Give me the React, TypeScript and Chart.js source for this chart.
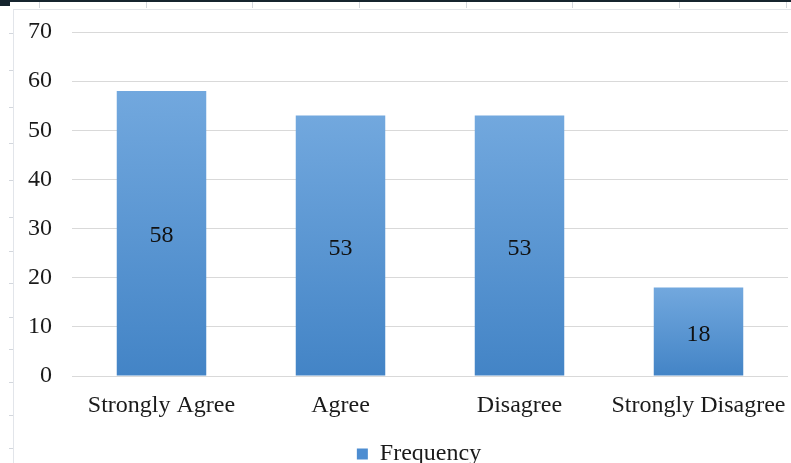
import React, { useEffect, useRef } from "react";
import { Chart, registerables } from "chart.js";

Chart.register(...registerables);

// Survey responses
const categories = ["Strongly Agree", "Agree", "Disagree", "Strongly Disagree"];
const frequency = [58, 53, 53, 18];
const seriesLabel = "Frequency";
const yMin = 0;
const yMax = 70;
const yStep = 10;

// Page furniture around the chart (ruler marks of the document view)
const topRulerX = [39, 146, 252, 359, 466, 572, 679, 786];
const leftRulerY = [33, 70, 107, 143, 180, 217, 251, 283, 317, 349, 382, 415, 448];

const FONT = "'Liberation Serif', 'Times New Roman', serif";
const TEXT = "#1a1a1a";
const BAR_TOP = "#72a8de";
const BAR_BOTTOM = "#4384c6";
const LEGEND_SWATCH = "#4d8dd1";

// Writes each bar's value in the middle of the bar
const barValueLabels = {
  id: "barValueLabels",
  afterDatasetsDraw(chart: any) {
    const { ctx } = chart;
    const meta = chart.getDatasetMeta(0);
    const values = chart.data.datasets[0].data as number[];
    ctx.save();
    ctx.font = `24px ${FONT}`;
    ctx.fillStyle = "#111";
    ctx.textAlign = "center";
    ctx.textBaseline = "alphabetic";
    meta.data.forEach((bar: any, i: number) => {
      const { x, y, base } = bar.getProps(["x", "y", "base"], true);
      // digits are ~16px tall, so the baseline sits a little below the bar's middle
      ctx.fillText(String(values[i]), x, (y + base) / 2 + 9);
    });
    ctx.restore();
  },
};

// Vertical gradient spanning each bar from its top to the baseline
function barGradient(ctx: any) {
  const chart = ctx.chart;
  const y = chart.scales?.y;
  if (ctx.type !== "data" || !y || typeof ctx.raw !== "number") return BAR_BOTTOM;
  const top = y.getPixelForValue(ctx.raw);
  const bottom = y.getPixelForValue(0);
  if (!isFinite(top) || !isFinite(bottom) || top === bottom) return BAR_BOTTOM;
  const g = chart.ctx.createLinearGradient(0, top, 0, bottom);
  g.addColorStop(0, BAR_TOP);
  g.addColorStop(1, BAR_BOTTOM);
  return g;
}

export default function App() {
  const canvasRef = useRef<HTMLCanvasElement | null>(null);

  useEffect(() => {
    if (!canvasRef.current) return;
    const chart = new Chart(canvasRef.current, {
      type: "bar",
      data: {
        labels: categories,
        datasets: [
          {
            label: seriesLabel,
            data: frequency,
            backgroundColor: barGradient as any,
            borderWidth: 0,
            categoryPercentage: 1,
            barPercentage: 0.5,
          },
        ],
      },
      options: {
        responsive: false,
        maintainAspectRatio: false,
        animation: false,
        devicePixelRatio: 1,
        layout: { padding: { left: 36, top: 22, right: 37, bottom: 0 } },
        scales: {
          x: {
            grid: { display: false, drawTicks: false },
            border: { display: false },
            ticks: {
              color: TEXT,
              font: { family: FONT, size: 24 },
              padding: 15,
              maxRotation: 0,
              minRotation: 0,
              autoSkip: false,
            },
            afterFit(scale: any) {
              scale.height = 56;
            },
          },
          y: {
            min: yMin,
            max: yMax,
            grid: { color: "#d9d9d9", lineWidth: 1, drawTicks: false },
            border: { display: false },
            ticks: {
              stepSize: yStep,
              color: TEXT,
              font: { family: FONT, size: 24 },
              // right-aligned numbers sitting 20px left of the plot
              mirror: true,
              crossAlign: "far",
              padding: -44,
            },
            afterFit(scale: any) {
              scale.width = 22;
            },
          },
        },
        plugins: {
          legend: {
            display: true,
            position: "bottom",
            labels: {
              color: TEXT,
              font: { family: FONT, size: 24 },
              boxWidth: 11,
              boxHeight: 11,
              padding: 10,
              generateLabels: (c: any) =>
                Chart.defaults.plugins.legend.labels
                  .generateLabels(c)
                  .map((item: any) => ({
                    ...item,
                    fillStyle: LEGEND_SWATCH,
                    strokeStyle: LEGEND_SWATCH,
                    lineWidth: 0,
                  })),
            },
          },
          tooltip: { enabled: false },
        },
      },
      plugins: [barValueLabels],
    });
    return () => chart.destroy();
  }, []);

  const abs = (style: React.CSSProperties): React.CSSProperties => ({
    position: "absolute",
    ...style,
  });

  return (
    <div
      style={abs({
        left: 0,
        top: 0,
        width: 791,
        height: 463,
        overflow: "hidden",
        background: "#ffffff",
      })}
    >
      <canvas ref={canvasRef} width={811} height={466} style={abs({ left: 14, top: 10 })} />
      <div style={abs({ left: 0, top: 0, width: 791, height: 2, background: "#15242e" })} />
      <div style={abs({ left: 0, top: 0, width: 10, height: 6, background: "#15242e" })} />
      {topRulerX.map((x) => (
        <div key={`t${x}`} style={abs({ left: x, top: 2, width: 1, height: 6, background: "#d3d7dd" })} />
      ))}
      <div style={abs({ left: 13, top: 9, width: 778, height: 1, background: "#e2e5ea" })} />
      <div style={abs({ left: 13, top: 9, width: 1, height: 454, background: "#e2e5ea" })} />
      {leftRulerY.map((y) => (
        <div key={`l${y}`} style={abs({ left: 9, top: y, width: 4, height: 1, background: "#d3d7dd" })} />
      ))}
    </div>
  );
}
